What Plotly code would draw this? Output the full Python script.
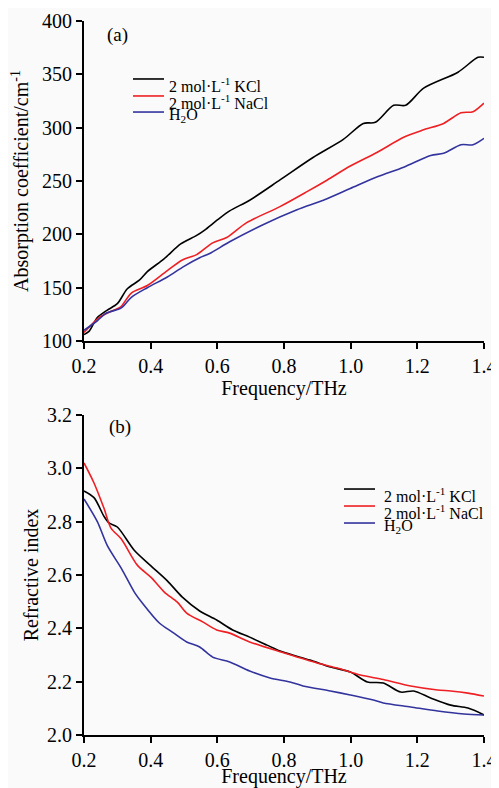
import plotly.graph_objects as go

# ---------------- data (a) absorption coefficient ----------------
f_kcl_a = [0.2, 0.215, 0.24, 0.27, 0.30, 0.33, 0.366, 0.39, 0.44, 0.49, 0.538, 0.562, 0.598, 0.637,
           0.697, 0.788, 0.887, 0.978, 1.038, 1.074, 1.129, 1.165, 1.219, 1.322, 1.382, 1.40]
a_kcl = [106, 109, 122, 129, 135, 149, 157, 165, 177, 191, 199, 204, 213, 222,
         232, 251, 272, 289, 304, 305, 321, 321, 337, 352, 366, 366]

f_nacl_a = [0.2, 0.245, 0.275, 0.31, 0.342, 0.39, 0.45, 0.495, 0.538, 0.586, 0.628, 0.688, 0.788,
            0.869, 0.93, 0.999, 1.08, 1.159, 1.219, 1.279, 1.331, 1.367, 1.40]
a_nacl = [108, 122, 127, 132, 145, 152, 166, 176, 181, 192, 197, 211, 226,
          240, 251, 264, 277, 291, 298, 304, 314, 315, 323]

f_h2o_a = [0.2, 0.24, 0.266, 0.312, 0.342, 0.39, 0.45, 0.50, 0.547, 0.577, 0.637, 0.737, 0.839,
           0.918, 0.999, 1.08, 1.159, 1.24, 1.279, 1.331, 1.367, 1.40]
a_h2o = [110, 119, 126, 131, 141, 150, 160, 170, 178, 182, 193, 209, 223,
         232, 243, 254, 263, 274, 276, 284, 284, 290]

# ---------------- data (b) refractive index ----------------
f_kcl_b = [0.2, 0.23, 0.26, 0.275, 0.30, 0.35, 0.40, 0.45, 0.495, 0.547, 0.598, 0.646, 0.697, 0.749,
           0.797, 0.878, 0.939, 0.999, 1.05, 1.098, 1.15, 1.189, 1.24, 1.30, 1.352, 1.40]
n_kcl = [2.915, 2.89, 2.82, 2.795, 2.78, 2.694, 2.635, 2.578, 2.517, 2.465, 2.431, 2.394, 2.367, 2.337,
         2.311, 2.281, 2.255, 2.236, 2.199, 2.195, 2.161, 2.165, 2.139, 2.112, 2.101, 2.075]

f_nacl_b = [0.2, 0.23, 0.26, 0.281, 0.312, 0.36, 0.402, 0.441, 0.48, 0.508, 0.556, 0.598, 0.637,
            0.697, 0.797, 0.899, 0.96, 1.029, 1.098, 1.18, 1.261, 1.30, 1.352, 1.40]
n_nacl = [3.02, 2.945, 2.85, 2.776, 2.735, 2.637, 2.59, 2.536, 2.498, 2.457, 2.424, 2.394, 2.382,
          2.349, 2.309, 2.27, 2.251, 2.225, 2.208, 2.184, 2.169, 2.165, 2.157, 2.146]

f_h2o_b = [0.2, 0.24, 0.27, 0.312, 0.351, 0.375, 0.426, 0.465, 0.508, 0.547, 0.586, 0.637, 0.697,
           0.758, 0.818, 0.857, 0.939, 0.999, 1.068, 1.098, 1.18, 1.261, 1.34, 1.40]
n_h2o = [2.885, 2.8, 2.71, 2.625, 2.536, 2.495, 2.42, 2.386, 2.349, 2.33, 2.292, 2.274, 2.24,
         2.214, 2.199, 2.184, 2.165, 2.15, 2.131, 2.12, 2.105, 2.09, 2.079, 2.075]

names = ["2 mol·L<sup>-1</sup> KCl", "2 mol·L<sup>-1</sup> NaCl", "H<sub>2</sub>O"]
colors = ["#000000", "#ee2024", "#33339e"]

x_ticks = [0.2, 0.4, 0.6, 0.8, 1.0, 1.2, 1.4]
x_ticktext = ["0.2", "0.4", "0.6", "0.8", "1.0", "1.2", "1.4"]
ya_ticks = [100, 150, 200, 250, 300, 350, 400]
yb_ticks = [2.0, 2.2, 2.4, 2.6, 2.8, 3.0, 3.2]
yb_ticktext = ["2.0", "2.2", "2.4", "2.6", "2.8", "3.0", "3.2"]

FONT = "Liberation Serif, Times New Roman, serif"

fig = go.Figure()
for fx, fy, nm, c in zip([f_kcl_a, f_nacl_a, f_h2o_a], [a_kcl, a_nacl, a_h2o], names, colors):
    fig.add_trace(go.Scatter(x=fx, y=fy, mode="lines", name=nm, showlegend=False,
                             line=dict(color=c, width=1.6, shape="spline", smoothing=0.8),
                             xaxis="x", yaxis="y"))
for fx, fy, nm, c in zip([f_kcl_b, f_nacl_b, f_h2o_b], [n_kcl, n_nacl, n_h2o], names, colors):
    fig.add_trace(go.Scatter(x=fx, y=fy, mode="lines", name=nm, showlegend=False,
                             line=dict(color=c, width=1.6, shape="spline", smoothing=0.8),
                             xaxis="x2", yaxis="y2"))

axis_common = dict(showline=True, linecolor="black", linewidth=2, ticks="outside",
                   ticklen=6, tickwidth=2, tickcolor="black", showgrid=False, zeroline=False,
                   mirror=False, automargin=False,
                   tickfont=dict(family=FONT, size=20, color="black"))

# legend key layout (paper coordinates): one per panel
legend_specs = [
    dict(x0=0.1225, x1=0.20, xt=0.2075, ys=[0.9188, 0.895, 0.8725]),
    dict(x0=0.65, x1=0.7275, xt=0.745, ys=[0.3445, 0.3207, 0.2969]),
]
text_shift = [-6, -6, -3]
shapes = []
annotations = []
for spec in legend_specs:
    for nm, c, yy, sh in zip(names, colors, spec["ys"], text_shift):
        shapes.append(dict(type="line", xref="paper", yref="paper", x0=spec["x0"], x1=spec["x1"],
                           y0=yy, y1=yy, line=dict(color=c, width=1.6)))
        annotations.append(dict(text=nm, x=spec["xt"], y=yy, xref="paper", yref="paper",
                                showarrow=False, xanchor="left", yanchor="middle", yshift=sh,
                                font=dict(family=FONT, size=16, color="black")))

annotations += [
    dict(text="(a)", x=0.0825, y=0.980, xref="paper", yref="paper", showarrow=False,
         font=dict(family=FONT, size=19, color="black"), xanchor="center", yanchor="middle"),
    dict(text="(b)", x=0.09, y=0.431, xref="paper", yref="paper", showarrow=False,
         font=dict(family=FONT, size=19, color="black"), xanchor="center", yanchor="middle"),
]

# the page body adds an 8 px margin, so the figure is 8 px smaller on each side
fig.update_layout(
    width=491, height=780,
    margin=dict(l=76, r=15, t=13, b=53),
    paper_bgcolor="#fafafa", plot_bgcolor="#fafafa",
    font=dict(family=FONT, color="black"),
    showlegend=False,
    xaxis=dict(domain=[0, 1], range=[0.2, 1.4], tickvals=x_ticks, ticktext=x_ticktext,
               anchor="y", title=dict(text="Frequency/THz", font=dict(family=FONT, size=20), standoff=2),
               **axis_common),
    yaxis=dict(domain=[0.5518, 1], range=[100, 400], tickvals=ya_ticks, anchor="x",
               title=dict(text="Absorption coefficient/cm<sup>-1</sup>", font=dict(family=FONT, size=20),
                          standoff=10),
               **axis_common),
    xaxis2=dict(domain=[0, 1], range=[0.2, 1.4], tickvals=x_ticks, ticktext=x_ticktext,
                anchor="y2", title=dict(text="Frequency/THz", font=dict(family=FONT, size=20), standoff=2),
                **axis_common),
    yaxis2=dict(domain=[0, 0.4482], range=[2.0, 3.2], tickvals=yb_ticks, ticktext=yb_ticktext,
                anchor="x2", title=dict(text="Refractive index", font=dict(family=FONT, size=20), standoff=3),
                **axis_common),
    shapes=shapes,
    annotations=annotations,
)

fig.write_html("out.html")
